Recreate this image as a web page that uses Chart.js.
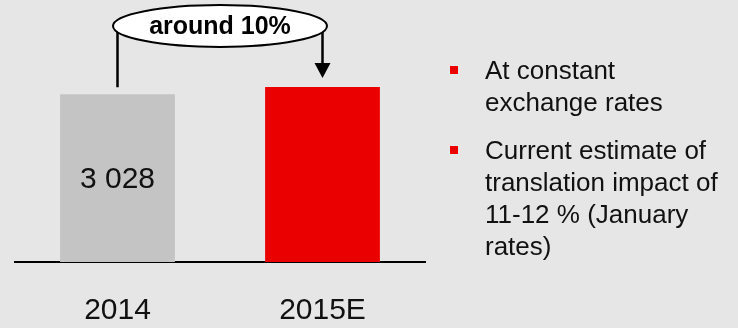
<!DOCTYPE html>
<html>
<head>
<meta charset="utf-8">
<script src="https://cdn.jsdelivr.net/npm/chart.js@4"></script>
<style>
  html, body { margin: 0; padding: 0; background: #e6e6e6; }
  #wrap { position: relative; width: 738px; height: 328px; overflow: hidden; }
  #myChart { position: absolute; left: 0; top: 0; }
  .notes { position: absolute; left: 485px; top: 54px; margin: 0; padding: 0; list-style: none;
           font-family: "Liberation Sans", Arial, sans-serif; font-size: 26px; line-height: 32px; color: #111; }
  .notes li { position: relative; margin-bottom: 16px; white-space: nowrap; }
  .notes li::before { content: ""; position: absolute; left: -35px; top: 12px; width: 8px; height: 8px; background: #eb0000; }
</style>
</head>
<body>
<div id="wrap">
  <canvas id="myChart" width="738" height="360"></canvas>
  <ul class="notes">
    <li>At constant<br>exchange rates</li>
    <li>Current estimate of<br>translation impact of<br>11-12 % (January<br>rates)</li>
  </ul>
</div>
<script>
let years = ["2014", "2015E"];
let sales = [3028, 3155];
let barLabels = ["3 028", ""];
let barColors = ["#c4c4c4", "#eb0000"];
let growthText = "around 10%";

let ctx = document.getElementById('myChart');

let bracket = {
    id: 'bracket',
    afterDraw(chart) {
        let c = chart.ctx;
        let bars = chart.getDatasetMeta(0).data;
        let a = bars[0], b = bars[1];

        // value inside the grey bar
        c.save();
        c.fillStyle = '#111';
        c.font = '30px "Liberation Sans", Arial, sans-serif';
        c.textAlign = 'center';
        c.textBaseline = 'middle';
        bars.forEach((bar, i) => {
            if (barLabels[i]) c.fillText(barLabels[i], bar.x, (bar.y + bar.base) / 2 + 2);
        });

        // connector lines + arrow
        let cx = (a.x + b.x) / 2, cy = 26;
        c.strokeStyle = '#000';
        c.lineWidth = 2.5;
        c.beginPath();
        c.moveTo(a.x, cy);
        c.lineTo(a.x, a.y - 7);
        c.moveTo(b.x, cy);
        c.lineTo(b.x, b.y - 20);
        c.stroke();
        c.fillStyle = '#000';
        c.beginPath();
        c.moveTo(b.x - 8, b.y - 24);
        c.lineTo(b.x + 8, b.y - 24);
        c.lineTo(b.x, b.y - 9);
        c.closePath();
        c.fill();

        // ellipse with label
        c.beginPath();
        c.ellipse(cx, cy, 107, 21, 0, 0, Math.PI * 2);
        c.fillStyle = '#fff';
        c.fill();
        c.lineWidth = 2;
        c.stroke();
        c.fillStyle = '#000';
        c.font = 'bold 25px "Liberation Sans", Arial, sans-serif';
        c.fillText(growthText, cx, cy + 1);
        c.restore();
    }
};

makeChart()

function makeChart() {
    const myChart = new Chart(ctx, {
        type: 'bar',
        data: {
            labels: years,
            datasets: [{
                data: sales,
                backgroundColor: barColors,
                borderWidth: 0,
                categoryPercentage: 1,
                barPercentage: 0.56
            }]
        },
        options: {
            responsive: false,
            animation: false,
            layout: {
                padding: { left: 15, right: 313, top: 68, bottom: 0 }
            },
            plugins: {
                legend: { display: false },
                tooltip: { enabled: false }
            },
            scales: {
                x: {
                    z: 1,
                    grid: { display: false, drawTicks: false },
                    border: { display: true, color: '#000', width: 2 },
                    ticks: {
                        color: '#111',
                        padding: 31,
                        font: { family: '"Liberation Sans", Arial, sans-serif', size: 30 }
                    }
                },
                y: {
                    display: false,
                    min: 0,
                    max: 3500
                }
            }
        },
        plugins: [bracket]
    });
}
</script>
</body>
</html>
